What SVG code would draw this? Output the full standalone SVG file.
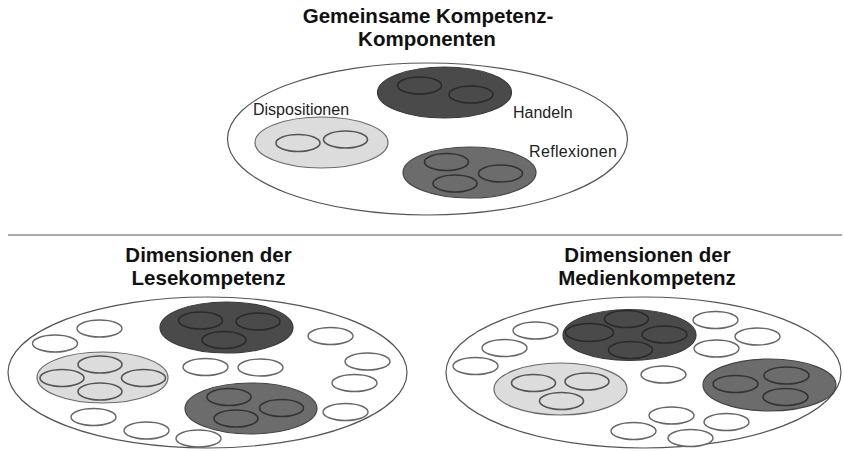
<svg xmlns="http://www.w3.org/2000/svg" width="844" height="451" viewBox="0 0 844 451">
<style>
.title{font-family:"Liberation Sans",Arial,sans-serif;font-weight:bold;font-size:20.5px;fill:#111;text-anchor:middle}
.lbl{font-family:"Liberation Sans",Arial,sans-serif;font-size:16px;fill:#222}
.outer{fill:#fff;stroke:#555;stroke-width:1.2}
.dark{fill:#4a4a4a;stroke:#3a3a3a;stroke-width:1.2}
.mid{fill:#6c6c6c;stroke:#454545;stroke-width:1.2}
.light{fill:#dcdcdc;stroke:#6a6a6a;stroke-width:1.2}
.din{fill:#4a4a4a;stroke:#2a2a2a;stroke-width:1.6}
.min{fill:#6c6c6c;stroke:#333;stroke-width:1.6}
.lin{fill:#dcdcdc;stroke:#555;stroke-width:1.6}
.w{fill:#fff;stroke:#666;stroke-width:1.4}
</style>

<g id="title-top">
<text class="title" x="428" y="23">Gemeinsame Kompetenz-</text>
<text class="title" x="427" y="46">Komponenten</text>
</g>

<g id="top-set">
<ellipse class="outer" cx="427.5" cy="139" rx="200" ry="76"/>
<g id="handeln">
<ellipse class="dark" cx="444.5" cy="92.5" rx="67" ry="25.5"/>
<ellipse class="din" cx="419.5" cy="85.5" rx="22" ry="8.5"/>
<ellipse class="din" cx="471" cy="94.5" rx="22" ry="8.5"/>
<text class="lbl" x="513" y="118">Handeln</text>
</g>
<g id="dispositionen">
<ellipse class="light" cx="321.5" cy="142.5" rx="66.5" ry="25.5"/>
<ellipse class="lin" cx="298" cy="143" rx="22" ry="8.5"/>
<ellipse class="lin" cx="345.5" cy="139.5" rx="22" ry="8.5"/>
<text class="lbl" x="253" y="115">Dispositionen</text>
</g>
<g id="reflexionen">
<ellipse class="mid" cx="469.5" cy="172.5" rx="66.5" ry="25.5"/>
<ellipse class="min" cx="446.5" cy="162" rx="22" ry="8.5"/>
<ellipse class="min" cx="500.5" cy="173.5" rx="22" ry="8.5"/>
<ellipse class="min" cx="455" cy="183.5" rx="22" ry="8.5"/>
<text class="lbl" x="529" y="157" textLength="88">Reflexionen</text>
</g>
</g>

<g id="separator">
<line x1="8" y1="235" x2="842" y2="235" stroke="#8c8c8c" stroke-width="1.4"/>
</g>

<g id="title-lese">
<text class="title" x="208.5" y="262">Dimensionen der</text>
<text class="title" x="208.5" y="285">Lesekompetenz</text>
</g>
<g id="title-medien">
<text class="title" x="647.5" y="262">Dimensionen der</text>
<text class="title" x="647" y="285">Medienkompetenz</text>
</g>

<g id="lese-set">
<ellipse class="outer" cx="207.5" cy="372.5" rx="199.5" ry="75.5"/>
<g id="lese-handeln">
<ellipse class="dark" cx="226.5" cy="327.5" rx="66.5" ry="25.5"/>
<ellipse class="din" cx="200.5" cy="320.5" rx="22" ry="8.5"/>
<ellipse class="din" cx="258" cy="321.5" rx="22" ry="8.5"/>
<ellipse class="din" cx="224" cy="340" rx="22" ry="8.5"/>
</g>
<g id="lese-dispositionen">
<ellipse class="light" cx="102.5" cy="377.5" rx="65.5" ry="25.5"/>
<ellipse class="lin" cx="100" cy="364.5" rx="22" ry="8.5"/>
<ellipse class="lin" cx="62" cy="378" rx="22" ry="8.5"/>
<ellipse class="lin" cx="143.5" cy="378" rx="22" ry="8.5"/>
<ellipse class="lin" cx="100" cy="391.5" rx="22" ry="8.5"/>
</g>
<g id="lese-reflexionen">
<ellipse class="mid" cx="251" cy="408.5" rx="66" ry="25.5"/>
<ellipse class="min" cx="229" cy="397" rx="22" ry="8.5"/>
<ellipse class="min" cx="281.5" cy="408" rx="22" ry="8.5"/>
<ellipse class="min" cx="236" cy="418.5" rx="22" ry="8.5"/>
</g>
<g id="lese-other">
<ellipse class="w" cx="99.5" cy="328.5" rx="22.5" ry="8.5"/>
<ellipse class="w" cx="55" cy="343.5" rx="22.5" ry="8.5"/>
<ellipse class="w" cx="205.5" cy="367" rx="22.5" ry="8.5"/>
<ellipse class="w" cx="260.5" cy="367.5" rx="22.5" ry="8.5"/>
<ellipse class="w" cx="330.5" cy="336" rx="22.5" ry="8.5"/>
<ellipse class="w" cx="367.5" cy="361.5" rx="22.5" ry="8.5"/>
<ellipse class="w" cx="354.5" cy="383" rx="22.5" ry="8.5"/>
<ellipse class="w" cx="345.5" cy="412" rx="22.5" ry="8.5"/>
<ellipse class="w" cx="93.5" cy="417" rx="22.5" ry="8.5"/>
<ellipse class="w" cx="146.5" cy="430.5" rx="22.5" ry="8.5"/>
<ellipse class="w" cx="198.5" cy="438.5" rx="22.5" ry="8.5"/>
</g>
</g>

<g id="medien-set">
<ellipse class="outer" cx="643.5" cy="372.5" rx="197.5" ry="75.5"/>
<g id="medien-handeln">
<ellipse class="dark" cx="629.5" cy="335" rx="66.5" ry="25.5"/>
<ellipse class="din" cx="626.5" cy="319" rx="22" ry="8.5"/>
<ellipse class="din" cx="589.5" cy="332.5" rx="24" ry="9"/>
<ellipse class="din" cx="664.5" cy="334.5" rx="22.5" ry="8.5"/>
<ellipse class="din" cx="630.5" cy="350" rx="22" ry="8.5"/>
</g>
<g id="medien-dispositionen">
<ellipse class="light" cx="560.5" cy="389" rx="66.5" ry="26"/>
<ellipse class="lin" cx="533.5" cy="383" rx="22" ry="8.5"/>
<ellipse class="lin" cx="587" cy="381.5" rx="22" ry="8.5"/>
<ellipse class="lin" cx="561.5" cy="401" rx="22" ry="8.5"/>
</g>
<g id="medien-reflexionen">
<ellipse class="mid" cx="769.5" cy="385" rx="66.5" ry="26"/>
<ellipse class="min" cx="735.5" cy="384" rx="22.5" ry="8.5"/>
<ellipse class="min" cx="786.5" cy="375.5" rx="22.5" ry="8.5"/>
<ellipse class="min" cx="785.5" cy="397" rx="22.5" ry="8.5"/>
</g>
<g id="medien-other">
<ellipse class="w" cx="535.5" cy="330.5" rx="22.5" ry="8.5"/>
<ellipse class="w" cx="504.5" cy="348" rx="22.5" ry="8.5"/>
<ellipse class="w" cx="475.5" cy="366" rx="22.5" ry="8.5"/>
<ellipse class="w" cx="715.5" cy="320" rx="22.5" ry="8.5"/>
<ellipse class="w" cx="757.5" cy="336.5" rx="22.5" ry="8.5"/>
<ellipse class="w" cx="716.5" cy="348.5" rx="22.5" ry="8.5"/>
<ellipse class="w" cx="663.5" cy="374.5" rx="22.5" ry="8.5"/>
<ellipse class="w" cx="671.5" cy="415.5" rx="22.5" ry="8.5"/>
<ellipse class="w" cx="726.5" cy="422" rx="22.5" ry="8.5"/>
<ellipse class="w" cx="633.5" cy="431" rx="22.5" ry="8.5"/>
<ellipse class="w" cx="690.5" cy="438" rx="22.5" ry="8.5"/>
</g>
</g>
</svg>
